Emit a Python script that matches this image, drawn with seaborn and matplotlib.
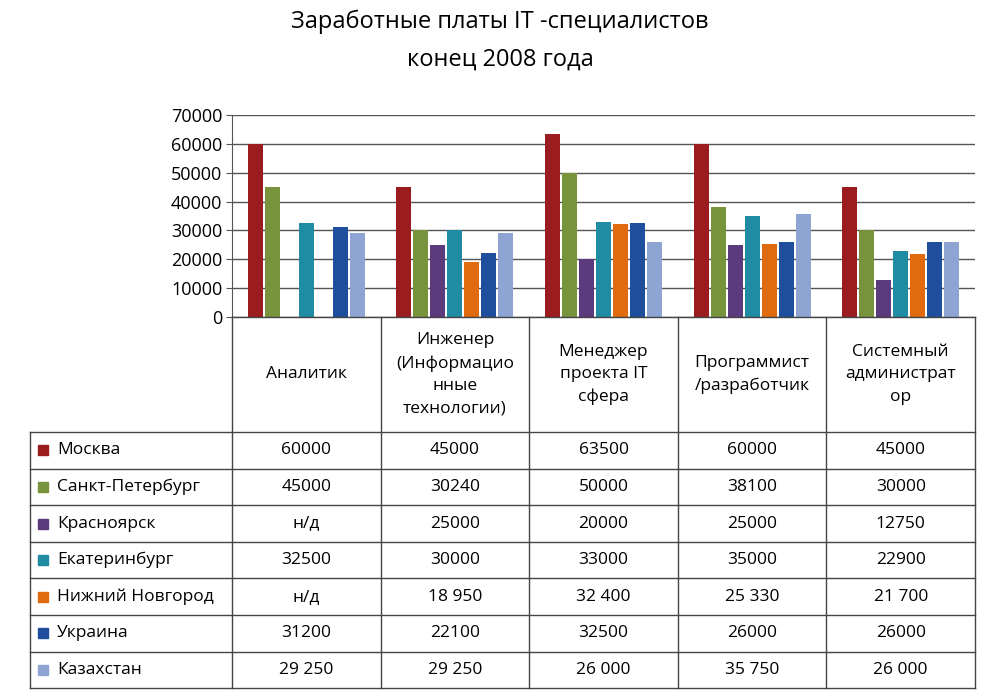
import numpy as np
import pandas as pd
import matplotlib
matplotlib.use("Agg")
import matplotlib.pyplot as plt
import seaborn as sns
from matplotlib.lines import Line2D
from matplotlib.patches import Rectangle

categories = ["Аналитик", "Инженер\n(Информацио\nнные\nтехнологии)", "Менеджер\nпроекта IT\nсфера",
              "Программист\n/разработчик", "Системный\nадминистрат\nор"]
cities = ["Москва", "Санкт-Петербург", "Красноярск", "Екатеринбург", "Нижний Новгород", "Украина", "Казахстан"]
moscow = [60000, 45000, 63500, 60000, 45000]
spb = [45000, 30240, 50000, 38100, 30000]
krasnoyarsk = [np.nan, 25000, 20000, 25000, 12750]
ekb = [32500, 30000, 33000, 35000, 22900]
nn = [np.nan, 18950, 32400, 25330, 21700]
ukraine = [31200, 22100, 32500, 26000, 26000]
kazakhstan = [29250, 29250, 26000, 35750, 26000]
table_text = [
    ["60000", "45000", "63500", "60000", "45000"],
    ["45000", "30240", "50000", "38100", "30000"],
    ["н/д", "25000", "20000", "25000", "12750"],
    ["32500", "30000", "33000", "35000", "22900"],
    ["н/д", "18 950", "32 400", "25 330", "21 700"],
    ["31200", "22100", "32500", "26000", "26000"],
    ["29 250", "29 250", "26 000", "35 750", "26 000"],
]
colors = ["#9B1C1F", "#77933C", "#5B3A7E", "#1F8CA3", "#E06A10", "#1F4E9C", "#8EA5D4"]

series = [moscow, spb, krasnoyarsk, ekb, nn, ukraine, kazakhstan]
rows = []
for city, vals in zip(cities, series):
    for cat, v in zip(categories, vals):
        rows.append({"cat": cat, "city": city, "val": v})
df = pd.DataFrame(rows)

plt.rcParams["font.family"] = "Open Sans"
fig = plt.figure(figsize=(10, 7), dpi=100)
fig.patch.set_facecolor("white")

L, R, TOP, BOT = 232, 975, 115, 317
ax = fig.add_axes([L / 1000, 1 - BOT / 700, (R - L) / 1000, (BOT - TOP) / 700])
sns.barplot(data=df, x="cat", y="val", hue="city", palette=colors, ax=ax,
            width=0.8, gap=0.12, saturation=1, legend=False, linewidth=0)
ax.set_ylim(0, 70000)
ax.set_xlim(-0.5, 4.5)
ax.set_yticks(range(0, 70001, 10000))
ax.set_yticklabels([str(v) for v in range(0, 70001, 10000)], fontsize=13)
ax.tick_params(axis="y", length=4, color="#555555", pad=3)
ax.set_xticks([])
ax.set_xlabel("")
ax.set_ylabel("")
ax.yaxis.grid(True, color="#555555", linewidth=1)
ax.set_axisbelow(True)
for s in ["top", "right", "bottom"]:
    ax.spines[s].set_visible(False)
ax.spines["left"].set_color("#555555")

fig.text(0.5, 1 - 22 / 700, "Заработные платы IT -специалистов", ha="center", va="center", fontsize=17)
fig.text(0.5, 1 - 60 / 700, "конец 2008 года", ha="center", va="center", fontsize=17)

def fx(x): return x / 1000
def fy(y): return 1 - y / 700
lc = "#444444"
colx = [L + i * (R - L) / 5 for i in range(6)]
row_y = [432 + i * 36.6 for i in range(8)]
for x in colx:
    fig.add_artist(Line2D([fx(x)] * 2, [fy(BOT), fy(row_y[-1])], color=lc, lw=1))
fig.add_artist(Line2D([fx(L), fx(R)], [fy(BOT)] * 2, color=lc, lw=1))
fig.add_artist(Line2D([fx(30)] * 2, [fy(row_y[0]), fy(row_y[-1])], color=lc, lw=1))
for y in row_y:
    fig.add_artist(Line2D([fx(30), fx(R)], [fy(y)] * 2, color=lc, lw=1))
for i, cat in enumerate(categories):
    cx = (colx[i] + colx[i + 1]) / 2
    fig.text(fx(cx), fy((BOT + row_y[0]) / 2), cat, ha="center", va="center", fontsize=12.5, linespacing=1.55)
for r, city in enumerate(cities):
    cy = (row_y[r] + row_y[r + 1]) / 2
    fig.add_artist(Rectangle((fx(38), fy(cy + 5)), 10 / 1000, 10 / 700, color=colors[r]))
    fig.text(fx(57), fy(cy), city, ha="left", va="center", fontsize=12.5)
    for i in range(5):
        cx = (colx[i] + colx[i + 1]) / 2
        fig.text(fx(cx), fy(cy), table_text[r][i], ha="center", va="center", fontsize=12.5)

fig.savefig("out.png", dpi=100, facecolor="white")
